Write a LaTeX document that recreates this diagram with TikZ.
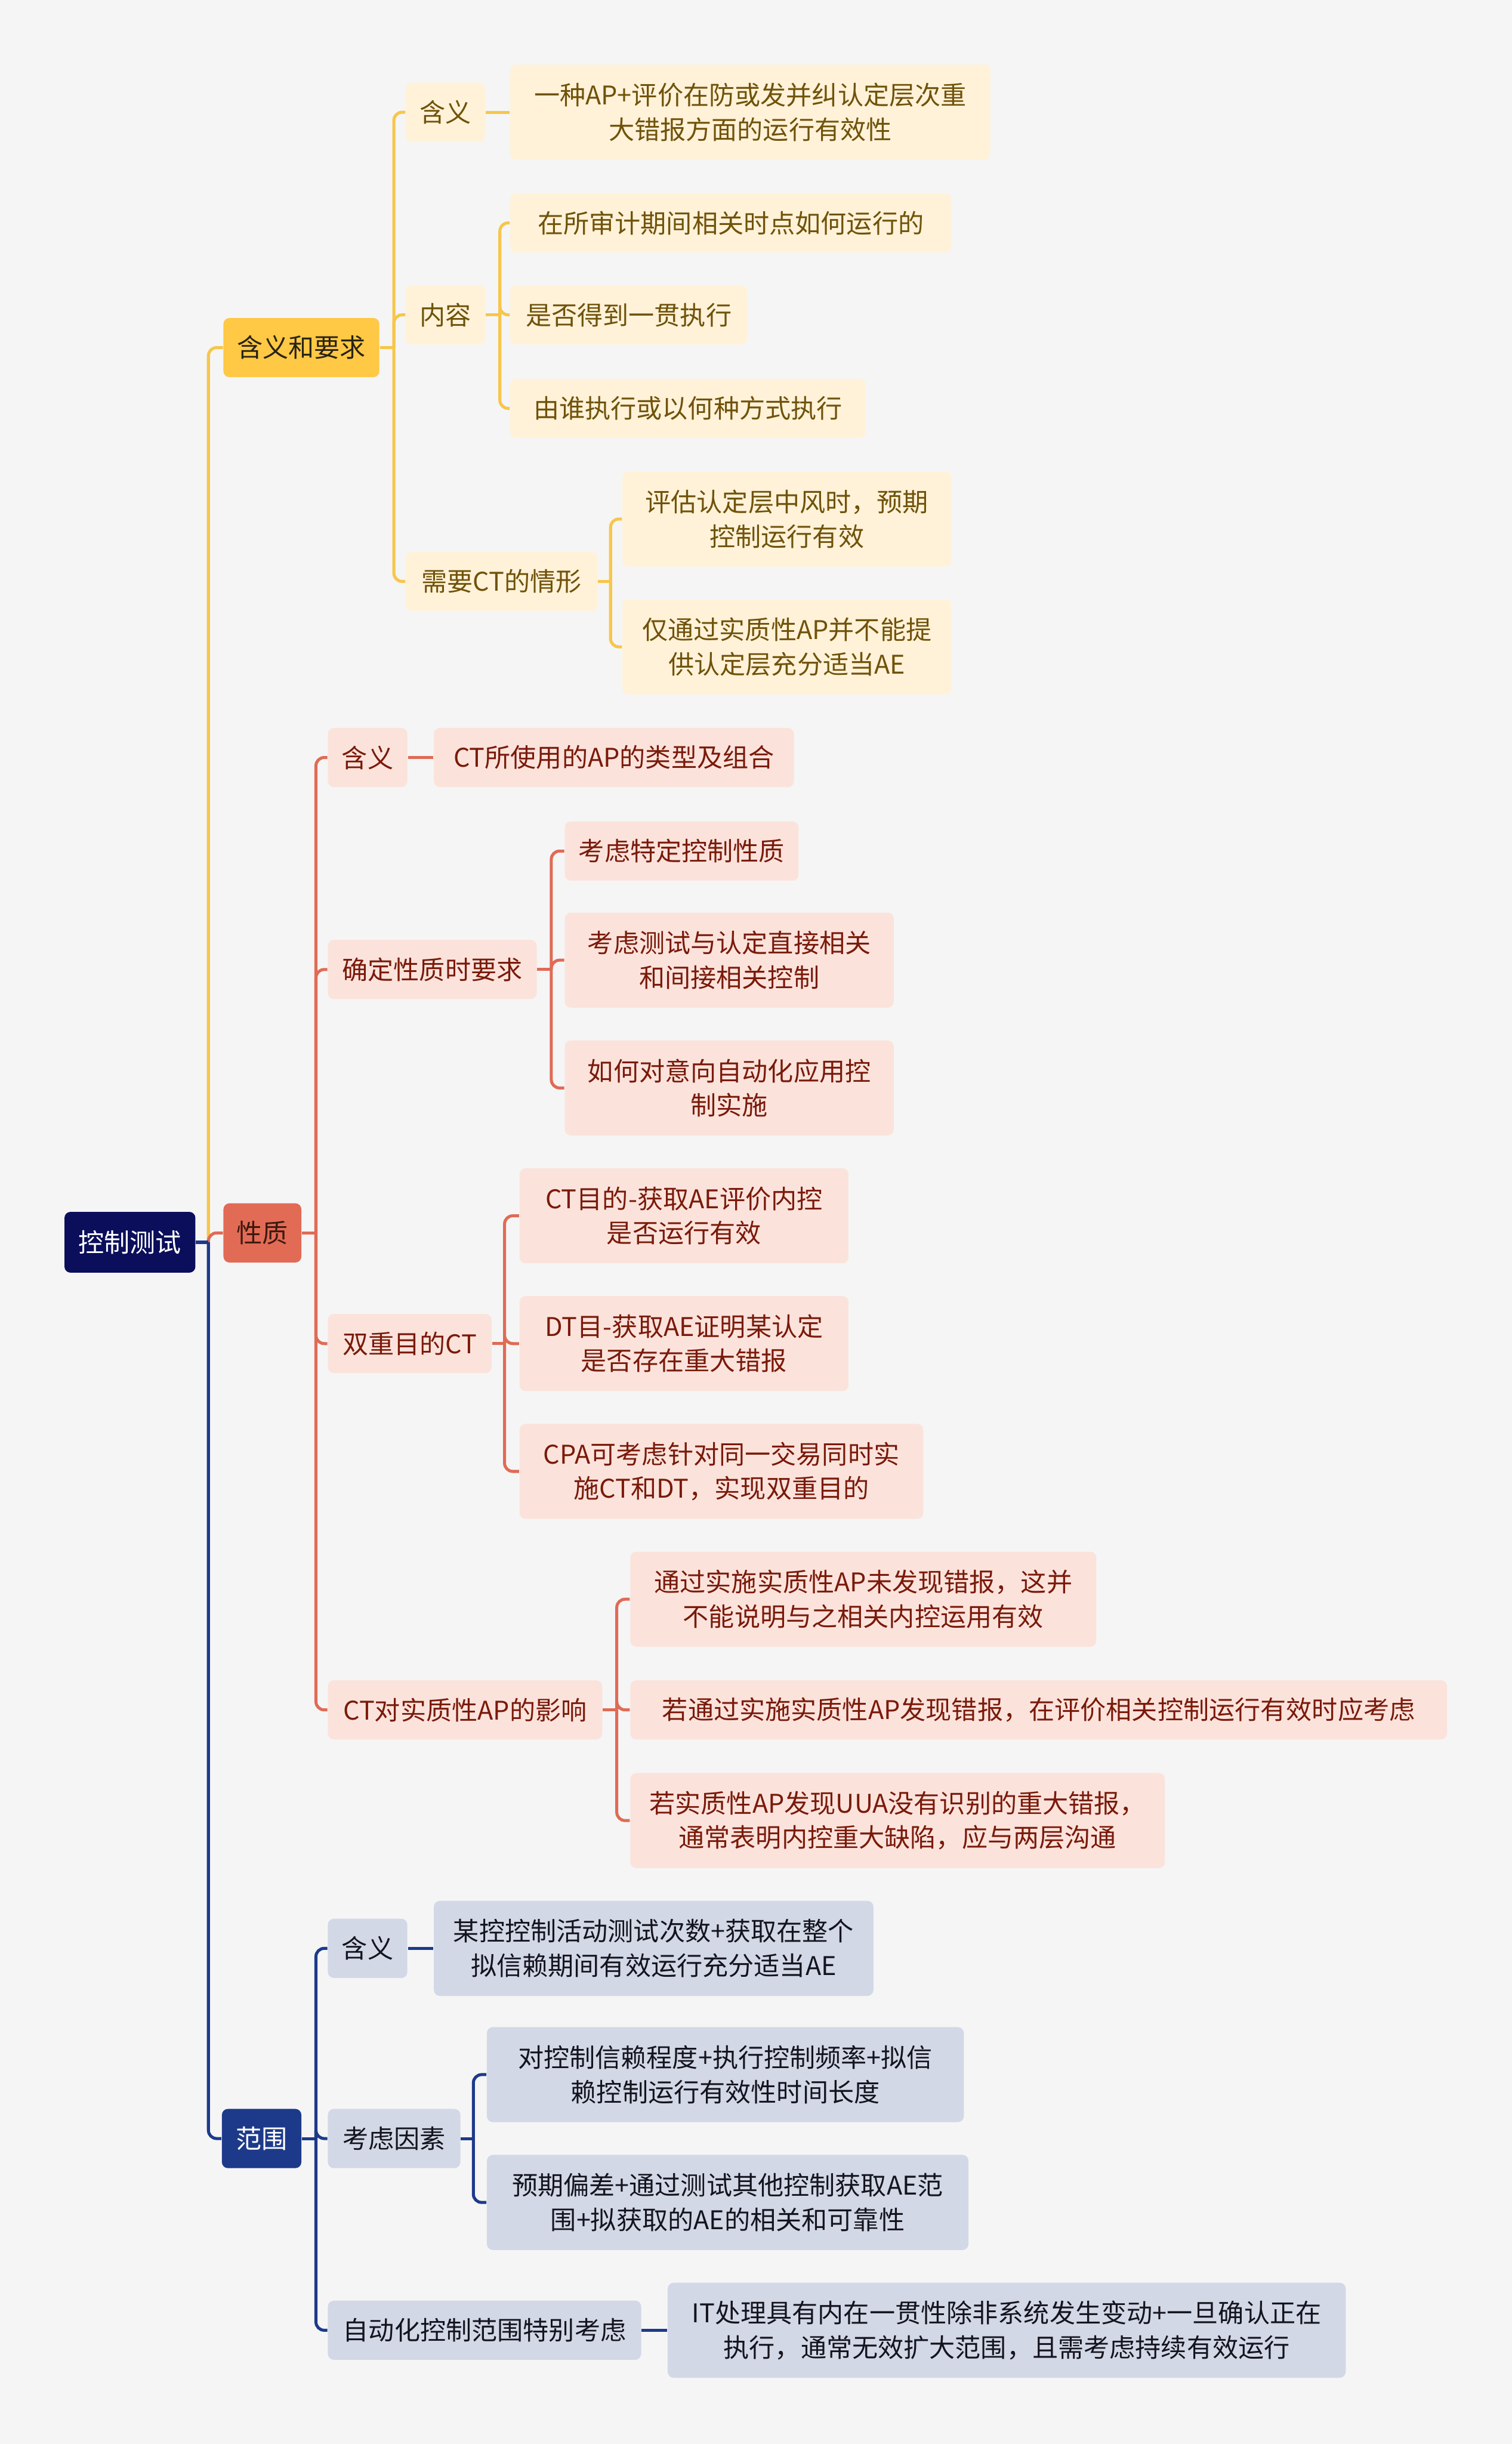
\documentclass[tikz,border=0pt]{standalone}
\usepackage{fontspec}
\newfontfamily\cjk{Noto Sans CJK SC}
\definecolor{bgc}{RGB}{245,245,245}
\definecolor{rootc}{RGB}{11,14,91}
\definecolor{ylwline}{RGB}{247,198,74}
\definecolor{ylwtop}{RGB}{255,200,69}
\definecolor{ylwfill}{RGB}{255,242,216}
\definecolor{ylwtext}{RGB}{112,82,10}
\definecolor{corline}{RGB}{224,107,85}
\definecolor{cortop}{RGB}{226,107,85}
\definecolor{corfill}{RGB}{251,227,220}
\definecolor{cortext}{RGB}{122,26,10}
\definecolor{bluline}{RGB}{29,58,138}
\definecolor{blufill}{RGB}{211,216,231}
\definecolor{blutext}{RGB}{20,20,30}
\tikzset{
  box/.style={anchor=west, rounded corners=2.2pt, inner sep=0pt, align=center,
              minimum height=0.76cm, font=\cjk\fontsize{9.4}{12.5}\selectfont},
  two/.style={minimum height=1.22cm},
  bw/.style={minimum width=#1*0.02cm},
  rootbox/.style={box, fill=rootc, text=white},
  ytop/.style={box, fill=ylwtop, text={rgb,255:red,40;green,35;blue,20}},
  ybox/.style={box, fill=ylwfill, text=ylwtext},
  ctop/.style={box, fill=cortop, text={rgb,255:red,60;green,25;blue,15}},
  cbox/.style={box, fill=corfill, text=cortext},
  btop/.style={box, fill=bluline, text=white},
  bbox/.style={box, fill=blufill, text=blutext},
  yln/.style={ylwline, line width=1.1pt},
  cln/.style={corline, line width=1.1pt},
  bln/.style={bluline, line width=1.1pt},
  turn/.style={rounded corners=3pt},
}

\begin{document}
\begin{tikzpicture}[x=0.02cm, y=-0.02cm]
    \fill[bgc] (0,0) rectangle (970,1568);
    \useasboundingbox (0,0) rectangle (970,1568);
    % root and main branches
    \node[rootbox, bw=84, minimum height=0.78cm] (root) at (41,797) {控制测试};
    \node[ytop, bw=100] (yReq) at (143,223) {含义和要求};
    \node[ctop, bw=50] (cNat) at (143,791) {性质};
    \node[btop, bw=51] (bScope) at (142,1372) {范围};
    % 含义和要求
    \node[ybox, bw=51] (yMean) at (260,72) {含义};
    \node[ybox, two, bw=308] (yMeanTxt) at (327,72) {一种AP+评价在防或发并纠认定层次重\\大错报方面的运行有效性};
    \node[ybox, bw=51] (yCont) at (260,202) {内容};
    \node[ybox, bw=283] (yC1) at (327,143) {在所审计期间相关时点如何运行的};
    \node[ybox, bw=152] (yC2) at (327,202) {是否得到一贯执行};
    \node[ybox, bw=228] (yC3) at (327,262) {由谁执行或以何种方式执行};
    \node[ybox, bw=123] (yNeed) at (260,373) {需要CT的情形};
    \node[ybox, two, bw=211] (yN1) at (399,333) {评估认定层中风时，预期\\控制运行有效};
    \node[ybox, two, bw=211] (yN2) at (399,415) {仅通过实质性AP并不能提\\供认定层充分适当AE};
    % 性质
    \node[cbox, bw=51] (cMean) at (210,486) {含义};
    \node[cbox, bw=231] (cMeanTxt) at (278,486) {CT所使用的AP的类型及组合};
    \node[cbox, bw=134] (cReq) at (210,622) {确定性质时要求};
    \node[cbox, bw=150] (cR1) at (362,546) {考虑特定控制性质};
    \node[cbox, two, bw=211] (cR2) at (362,616) {考虑测试与认定直接相关\\和间接相关控制};
    \node[cbox, two, bw=211] (cR3) at (362,698) {如何对意向自动化应用控\\制实施};
    \node[cbox, bw=105] (cDual) at (210,862) {双重目的CT};
    \node[cbox, two, bw=211] (cD1) at (333,780) {CT目的-获取AE评价内控\\是否运行有效};
    \node[cbox, two, bw=211] (cD2) at (333,862) {DT目-获取AE证明某认定\\是否存在重大错报};
    \node[cbox, two, bw=259] (cD3) at (333,944) {CPA可考虑针对同一交易同时实\\施CT和DT，实现双重目的};
    \node[cbox, bw=176] (cSub) at (210,1097) {CT对实质性AP的影响};
    \node[cbox, two, bw=299] (cS1) at (404,1026) {通过实施实质性AP未发现错报，这并\\不能说明与之相关内控运用有效};
    \node[cbox, bw=524] (cS2) at (404,1097) {若通过实施实质性AP发现错报，在评价相关控制运行有效时应考虑};
    \node[cbox, two, bw=343] (cS3) at (404,1168) {若实质性AP发现UUA没有识别的重大错报，\\通常表明内控重大缺陷，应与两层沟通};
    % 范围
    \node[bbox, bw=51] (bMean) at (210,1250) {含义};
    \node[bbox, two, bw=282] (bMeanTxt) at (278,1250) {某控控制活动测试次数+获取在整个\\拟信赖期间有效运行充分适当AE};
    \node[bbox, bw=85] (bFac) at (210,1372) {考虑因素};
    \node[bbox, two, bw=306] (bF1) at (312,1331) {对控制信赖程度+执行控制频率+拟信\\赖控制运行有效性时间长度};
    \node[bbox, two, bw=309] (bF2) at (312,1413) {预期偏差+通过测试其他控制获取AE范\\围+拟获取的AE的相关和可靠性};
    \node[bbox, bw=201] (bAuto) at (210,1495) {自动化控制范围特别考虑};
    \node[bbox, two, bw=435] (bAutoTxt) at (428,1495) {IT处理具有内在一贯性除非系统发生变动+一旦确认正在\\执行，通常无效扩大范围，且需考虑持续有效运行};

    % connectors
    \path (root.east) -- ++(8,0) coordinate (jRoot);
    \draw[yln, turn] (jRoot) |- (yReq.west);
    \draw[cln, turn] (jRoot) |- (cNat.west);
    \draw[bln] (root.east) -- (jRoot);
    \draw[bln, turn] (jRoot) |- (bScope.west);

    \draw[yln] (yReq.east) -- ++(9,0) coordinate (jReq);
    \foreach \c in {yMean, yCont, yNeed} \draw[yln, turn] (jReq) |- (\c.west);
    \draw[yln] (yMean.east) -- (yMeanTxt.west);
    \draw[yln] (yCont.east) -- ++(9,0) coordinate (jCont);
    \foreach \c in {yC1, yC2, yC3} \draw[yln, turn] (jCont) |- (\c.west);
    \draw[yln] (yNeed.east) -- ++(8,0) coordinate (jNeed);
    \foreach \c in {yN1, yN2} \draw[yln, turn] (jNeed) |- (\c.west);

    \draw[cln] (cNat.east) -- ++(9,0) coordinate (jNat);
    \foreach \c in {cMean, cReq, cDual, cSub} \draw[cln, turn] (jNat) |- (\c.west);
    \draw[cln] (cMean.east) -- (cMeanTxt.west);
    \draw[cln] (cReq.east) -- ++(9,0) coordinate (jReqC);
    \foreach \c in {cR1, cR2, cR3} \draw[cln, turn] (jReqC) |- (\c.west);
    \draw[cln] (cDual.east) -- ++(8,0) coordinate (jDual);
    \foreach \c in {cD1, cD2, cD3} \draw[cln, turn] (jDual) |- (\c.west);
    \draw[cln] (cSub.east) -- ++(9,0) coordinate (jSub);
    \foreach \c in {cS1, cS2, cS3} \draw[cln, turn] (jSub) |- (\c.west);

    \draw[bln] (bScope.east) -- ++(9,0) coordinate (jScope);
    \foreach \c in {bMean, bFac, bAuto} \draw[bln, turn] (jScope) |- (\c.west);
    \draw[bln] (bMean.east) -- (bMeanTxt.west);
    \draw[bln] (bFac.east) -- ++(8,0) coordinate (jFac);
    \foreach \c in {bF1, bF2} \draw[bln, turn] (jFac) |- (\c.west);
    \draw[bln] (bAuto.east) -- (bAutoTxt.west);
\end{tikzpicture}
\end{document}
